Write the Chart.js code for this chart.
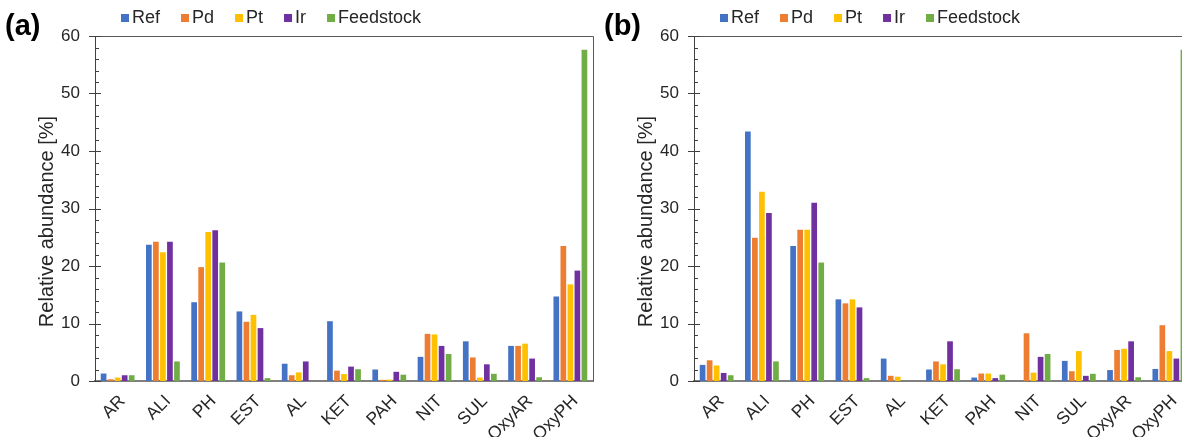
<!DOCTYPE html>
<html>
<head>
<meta charset="utf-8">
<script src="https://cdn.jsdelivr.net/npm/chart.js@4.4.1/dist/chart.umd.min.js"></script>
<style>
    body { margin: 0; width: 1182px; height: 437px; overflow: hidden; background: #fff; position: relative; }
    .panel { position: absolute; top: 0; width: 600px; height: 437px; }
</style>
</head>
<body>
<div class="panel" style="left:0"><canvas id="chartA"></canvas></div>
<div class="panel" style="left:599px"><canvas id="chartB"></canvas></div>
<script>
const categories = ["AR", "ALI", "PH", "EST", "AL", "KET", "PAH", "NIT", "SUL", "OxyAR", "OxyPH"];
const seriesNames = ["Ref", "Pd", "Pt", "Ir", "Feedstock"];
const seriesColors = ["#4472C4", "#ED7D31", "#FFC000", "#7030A0", "#70AD47"];
const yMin = 0, yMax = 60, yStep = 10, yMinorStep = 2;
const yTitle = "Relative abundance [%]";

// panel (a)
const refA = [1.3, 23.7, 13.7, 12.1, 3.0, 10.4, 2.0, 4.2, 6.9, 6.1, 14.7];
const pdA  = [0.3, 24.2, 19.8, 10.3, 1.0, 1.8, 0.2, 8.2, 4.1, 6.1, 23.5];
const ptA  = [0.6, 22.4, 25.9, 11.5, 1.5, 1.2, 0.25, 8.1, 0.6, 6.5, 16.8];
const irA  = [1.0, 24.2, 26.2, 9.2, 3.4, 2.5, 1.6, 6.1, 2.9, 3.9, 19.2];

// panel (b)
const refB = [2.8, 43.4, 23.5, 14.2, 3.9, 2.0, 0.6, 0, 3.5, 1.9, 2.1];
const pdB  = [3.6, 24.9, 26.3, 13.5, 0.9, 3.4, 1.3, 8.3, 1.7, 5.4, 9.7];
const ptB  = [2.7, 32.9, 26.3, 14.2, 0.75, 2.9, 1.3, 1.45, 5.2, 5.6, 5.2];
const irB  = [1.4, 29.2, 31.0, 12.8, 0, 6.9, 0.5, 4.2, 0.9, 6.9, 3.9];

// same feedstock in both panels
const feedstock = [1.0, 3.4, 20.6, 0.5, 0, 2.05, 1.1, 4.7, 1.25, 0.65, 57.6];

Chart.defaults.font.family = "'Liberation Sans', Arial, sans-serif";
Chart.defaults.color = "#262626";

// frame, axis ticks, y title, panel letter and the little legend on top
const decorations = {
    id: "decorations",
    afterDraw(chart, args, opts) {
        const ctx = chart.ctx;
        const area = chart.chartArea;
        const y = chart.scales.y;

        ctx.save();
        ctx.strokeStyle = "#595959";
        ctx.lineWidth = 1;
        ctx.beginPath();
        ctx.moveTo(area.left, area.top + 0.5);
        ctx.lineTo(area.right + 0.5, area.top + 0.5);
        ctx.lineTo(area.right + 0.5, area.bottom);
        ctx.stroke();

        ctx.strokeStyle = "#404040";
        for (let v = yMin; v <= yMax; v += yMinorStep) {
            const py = Math.round(y.getPixelForValue(v)) + 0.5;
            const major = v % yStep === 0;
            ctx.beginPath();
            ctx.moveTo(area.left - (major ? 6 : 0), py);
            ctx.lineTo(area.left + (major ? 6 : 4), py);
            ctx.stroke();
        }

        // axis title sits a bit below the middle of the plot, as in the original
        ctx.fillStyle = "#262626";
        ctx.font = "20px 'Liberation Sans', Arial, sans-serif";
        ctx.textAlign = "center";
        ctx.textBaseline = "middle";
        ctx.translate(47, (area.top + area.bottom) / 2 + 13);
        ctx.rotate(-Math.PI / 2);
        ctx.fillText(yTitle, 0, 0);
        ctx.setTransform(1, 0, 0, 1, 0, 0);
        ctx.scale(chart.currentDevicePixelRatio, chart.currentDevicePixelRatio);

        ctx.fillStyle = "#000";
        ctx.font = "bold 29px 'Liberation Sans', Arial, sans-serif";
        ctx.textAlign = "left";
        ctx.fillText(opts.letter, 5, 27);

        ctx.font = "18px 'Liberation Sans', Arial, sans-serif";
        let x = 121;
        chart.data.datasets.forEach(ds => {
            ctx.fillStyle = ds.backgroundColor;
            ctx.fillRect(x, 14, 8, 8);
            ctx.fillStyle = "#262626";
            ctx.fillText(ds.label, x + 11, 18);
            x += 11 + ctx.measureText(ds.label).width + 21;
        });
        ctx.restore();
    }
};

function renderPanel(id, letter, series) {
    return new Chart(document.getElementById(id), {
        type: "bar",
        data: {
            labels: categories,
            datasets: series.map((data, i) => ({
                label: seriesNames[i],
                data,
                backgroundColor: seriesColors[i],
                borderWidth: 0,
                categoryPercentage: 0.776,
                barPercentage: 0.81
            }))
        },
        options: {
            responsive: true,
            maintainAspectRatio: false,
            animation: false,
            layout: { padding: { top: 36, right: 7 } },
            plugins: {
                legend: { display: false },
                tooltip: { enabled: false },
                decorations: { letter }
            },
            scales: {
                x: {
                    grid: { display: false, drawTicks: false },
                    border: { color: "#7f7f7f", width: 2 },
                    ticks: {
                        autoSkip: false,
                        minRotation: 45,
                        maxRotation: 45,
                        padding: 10,
                        labelOffset: 5,
                        font: { size: 17.5 }
                    },
                    afterFit: s => { s.height = 56; }
                },
                y: {
                    min: yMin,
                    max: yMax,
                    grid: { display: false, drawTicks: false },
                    border: { color: "#404040", width: 1 },
                    ticks: {
                        stepSize: yStep,
                        padding: 15,
                        font: { size: 17 }
                    },
                    afterFit: s => { s.width = 95; }
                }
            }
        },
        plugins: [decorations]
    });
}

renderPanel("chartA", "(a)", [refA, pdA, ptA, irA, feedstock]);
renderPanel("chartB", "(b)", [refB, pdB, ptB, irB, feedstock]);
</script>
</body>
</html>
